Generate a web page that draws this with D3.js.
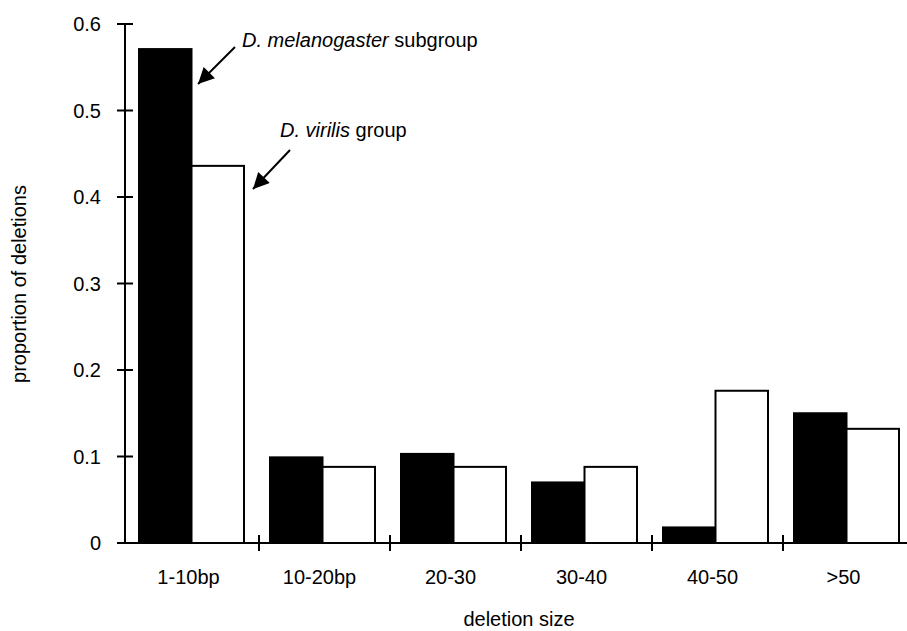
<!DOCTYPE html>
<html>
<head>
<meta charset="utf-8">
<script src="https://cdn.jsdelivr.net/npm/d3@7"></script>
<style>
  body { margin: 0; background: #fff; }
  svg text { font-family: "Liberation Sans", Arial, Helvetica, sans-serif; fill: #000; }
</style>
</head>
<body>
<svg id="chart" width="907" height="631"></svg>
<script>
// deletion size classes
var categories = ["1-10bp", "10-20bp", "20-30", "30-40", "40-50", ">50"];
var series = ["melanogaster", "virilis"];
// proportion of deletions
var melanogaster = [0.571, 0.099, 0.103, 0.070, 0.018, 0.150];
var virilis = [0.436, 0.088, 0.088, 0.088, 0.176, 0.132];
var yTicks = [0, 0.1, 0.2, 0.3, 0.4, 0.5, 0.6];

var data = categories.map(function(c, i) {
  return { cat: c, melanogaster: melanogaster[i], virilis: virilis[i] };
});

var svg = d3.select("#chart");

var yScale = d3.scaleLinear().domain([0, 0.6]).range([543, 24]);
var xScale = d3.scaleBand().domain(categories).range([128, 914]);
var xSub = d3.scaleBand().domain(series).range([11, 116]);
var fill = { melanogaster: "#000", virilis: "#fff" };

// bars
var groups = svg.selectAll(".grp")
  .data(data)
  .enter().append("g")
    .attr("class", "grp")
    .attr("transform", function(d) { return "translate(" + xScale(d.cat) + ",0)"; });

groups.selectAll("rect")
  .data(function(d) { return series.map(function(s) { return { key: s, value: d[s] }; }); })
  .enter().append("rect")
    .attr("x", function(d) { return xSub(d.key); })
    .attr("y", function(d) { return yScale(d.value); })
    .attr("width", xSub.bandwidth())
    .attr("height", function(d) { return yScale(0) - yScale(d.value); })
    .style("fill", function(d) { return fill[d.key]; })
    .style("stroke", "#000")
    .style("stroke-width", 2);

// y axis
svg.append("line")
  .attr("x1", 125).attr("x2", 125)
  .attr("y1", yScale(0.6)).attr("y2", yScale(0))
  .style("stroke", "#000").style("stroke-width", 2);

svg.selectAll(".ytick")
  .data(yTicks)
  .enter().append("line")
    .attr("x1", 117).attr("x2", 133)
    .attr("y1", function(d) { return yScale(d); })
    .attr("y2", function(d) { return yScale(d); })
    .style("stroke", "#000").style("stroke-width", 2);

svg.selectAll(".ylab")
  .data(yTicks)
  .enter().append("text")
    .attr("x", 101)
    .attr("y", function(d) { return yScale(d) + 7; })
    .attr("text-anchor", "end")
    .style("font-size", "20px")
    .text(function(d) { return d === 0 ? "0" : d3.format(".1f")(d); });

// x axis
svg.append("line")
  .attr("x1", 125).attr("x2", 907)
  .attr("y1", yScale(0)).attr("y2", yScale(0))
  .style("stroke", "#000").style("stroke-width", 2);

svg.selectAll(".xtick")
  .data(categories.slice(1))
  .enter().append("line")
    .attr("x1", function(d) { return xScale(d); })
    .attr("x2", function(d) { return xScale(d); })
    .attr("y1", 535).attr("y2", 551)
    .style("stroke", "#000").style("stroke-width", 2);

svg.selectAll(".xlab")
  .data(categories)
  .enter().append("text")
    .attr("x", function(d) { return xScale(d) + xScale.bandwidth() / 2 - 5; })
    .attr("y", 584)
    .attr("text-anchor", "middle")
    .style("font-size", "20px")
    .text(function(d) { return d; });

// axis titles
svg.append("text")
  .attr("x", 519).attr("y", 626)
  .attr("text-anchor", "middle")
  .style("font-size", "20px")
  .text("deletion size");

svg.append("text")
  .attr("transform", "translate(26,284) rotate(-90)")
  .attr("text-anchor", "middle")
  .style("font-size", "20px")
  .text("proportion of deletions");

// annotations with arrows
svg.append("defs").append("marker")
  .attr("id", "head")
  .attr("viewBox", "0 0 10 10")
  .attr("refX", 10).attr("refY", 5)
  .attr("markerWidth", 22).attr("markerHeight", 16)
  .attr("markerUnits", "userSpaceOnUse")
  .attr("orient", "auto")
  .append("path")
    .attr("d", "M0,0 L10,5 L0,10 z")
    .style("fill", "#000");

var notes = [
  { it: "D. melanogaster", rest: " subgroup", x: 242, y: 47, from: [235, 47], to: [198, 84] },
  { it: "D. virilis", rest: " group", x: 280, y: 137, from: [290, 150], to: [253, 189] }
];

notes.forEach(function(n) {
  svg.append("line")
    .attr("x1", n.from[0]).attr("y1", n.from[1])
    .attr("x2", n.to[0]).attr("y2", n.to[1])
    .style("stroke", "#000").style("stroke-width", 2)
    .attr("marker-end", "url(#head)");
  var t = svg.append("text")
    .attr("x", n.x).attr("y", n.y)
    .style("font-size", "20px");
  t.append("tspan").style("font-style", "italic").text(n.it);
  t.append("tspan").text(n.rest);
});
</script>
</body>
</html>
